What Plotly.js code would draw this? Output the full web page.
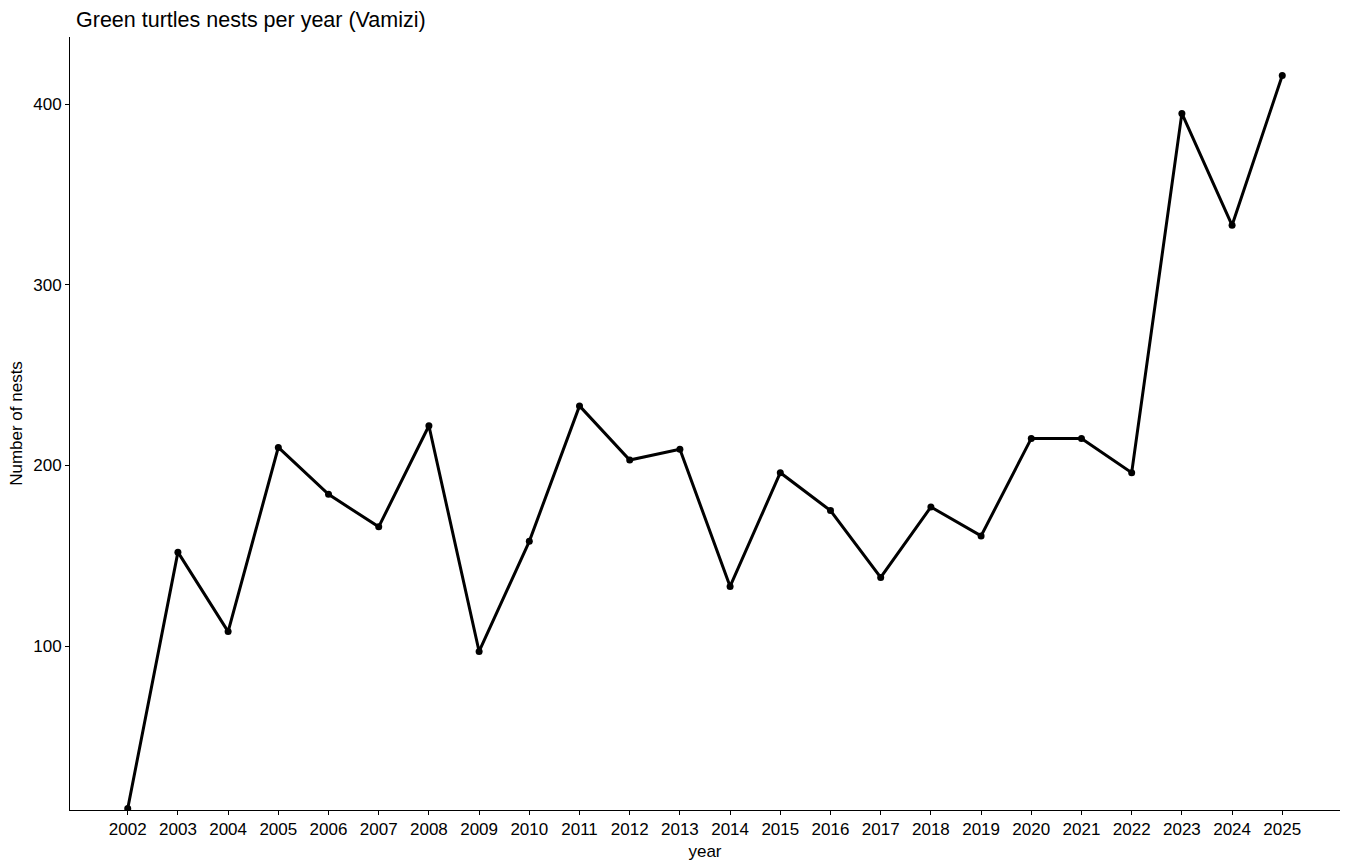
<!DOCTYPE html>
<html>
<head>
<meta charset="utf-8">
<script src="https://cdn.plot.ly/plotly-3.0.1.min.js"></script>
<style>html,body{margin:0;padding:0;background:#fff;}#chart{width:1350px;height:868px;}</style>
</head>
<body>
<div id="chart"></div>
<script>
const years = [2002,2003,2004,2005,2006,2007,2008,2009,2010,2011,2012,2013,2014,2015,2016,2017,2018,2019,2020,2021,2022,2023,2024,2025];
const nests = [10,152,108,210,184,166,222,97,158,233,203,209,133,196,175,138,177,161,215,215,196,395,333,416];
const yTicks = [100,200,300,400];

const trace = {
  x: years, y: nests, type: 'scatter', mode: 'lines+markers',
  line: {color: '#000000', width: 3},
  marker: {color: '#000000', size: 7},
  cliponaxis: true, hoverinfo: 'x+y'
};
const font = {family: 'Liberation Sans, Arial, sans-serif', color: '#000000'};
const layout = {
  width: 1350, height: 868,
  paper_bgcolor: '#ffffff', plot_bgcolor: '#ffffff',
  margin: {l: 70, r: 10, t: 37, b: 58},
  showlegend: false,
  font: font,
  title: {text: 'Green turtles nests per year (Vamizi)', font: {family: font.family, size: 21.5, color: '#000000'},
          xref: 'container', yref: 'container', x: 76/1350, xanchor: 'left', y: 1 - 19/868, yanchor: 'middle'},
  xaxis: {
    range: [2000.85, 2026.15], tickmode: 'array', tickvals: years, ticktext: years.map(String),
    showgrid: false, zeroline: false, showline: true, linecolor: '#000000', linewidth: 1,
    ticks: 'outside', ticklen: 4, tickcolor: '#000000', tickwidth: 1,
    tickfont: {family: font.family, size: 17, color: '#000000'},
    title: {text: 'year', font: {family: font.family, size: 17, color: '#000000'}, standoff: 6}
  },
  yaxis: {
    range: [9.2, 437.3], tickmode: 'array', tickvals: yTicks, ticktext: yTicks.map(String),
    showgrid: false, zeroline: false, showline: true, linecolor: '#000000', linewidth: 1,
    ticks: 'outside', ticklen: 4, tickcolor: '#000000', tickwidth: 1,
    tickfont: {family: font.family, size: 17, color: '#000000'},
    title: {text: 'Number of nests', font: {family: font.family, size: 17, color: '#000000'}, standoff: 6}
  }
};
Plotly.newPlot('chart', [trace], layout, {displayModeBar: false, staticPlot: true});
</script>
</body>
</html>
